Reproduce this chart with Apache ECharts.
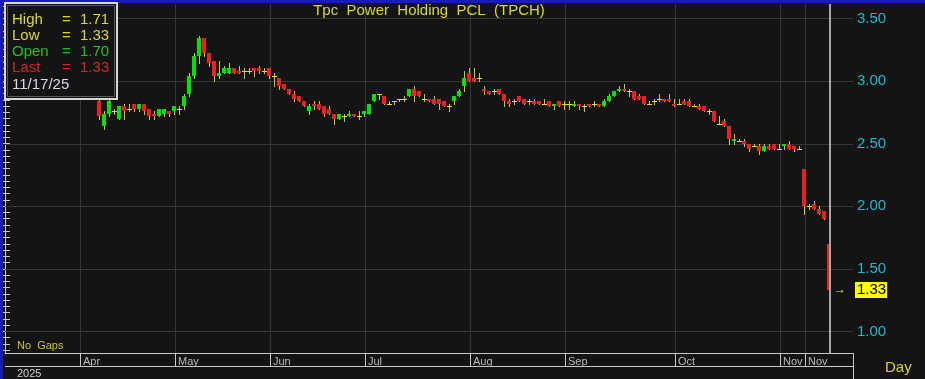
<!DOCTYPE html>
<html><head><meta charset="utf-8">
<script src="https://cdn.jsdelivr.net/npm/echarts@6/dist/echarts.min.js"></script>
<style>html,body{margin:0;padding:0;background:#141414;overflow:hidden}#c{width:925px;height:379px;}</style>
</head><body><div id="c"></div>
<script>
// ---- data (trading-day index, Apr 1 2025 = 15) ----
const firstIndex = 19;
const opens = [2.84,2.64,2.74,2.76,2.70,2.80,2.78,2.82,2.78,2.82,2.78,2.74,2.72,2.74,2.76,
 2.76,2.78,2.80,2.90,3.04,3.20,3.34,3.22,3.16,3.04,3.06,3.06,3.10,3.08,3.08,3.08,3.10,3.10,3.08,
 3.10,3.04,3.02,2.98,2.94,2.90,2.88,2.84,2.76,2.82,2.82,2.80,2.78,2.74,2.70,2.72,2.72,2.74,2.72,
 2.74,2.74,2.84,2.90,2.88,2.82,2.84,2.86,2.86,2.88,2.94,2.92,2.86,2.86,2.86,2.86,2.84,2.80,2.84,2.88,2.96,
 3.06,3.02,3.02,2.94,2.92,2.92,2.94,2.90,2.84,2.84,2.88,2.86,2.84,2.84,2.84,2.82,2.84,2.80,2.84,
 2.82,2.82,2.80,2.82,2.80,2.82,2.82,2.82,2.80,2.84,2.88,2.92,2.94,2.92,2.92,2.88,2.88,2.82,2.84,2.86,2.86,2.86,
 2.82,2.82,2.84,2.84,2.80,2.80,2.80,2.76,2.76,2.66,2.68,2.64,2.52,2.52,2.52,2.50,2.48,2.48,2.44,2.48,2.50,
 2.46,2.48,2.50,2.48,2.46,2.30,2.00,2.02,1.98,1.96,1.70];
const highs = [2.86,2.76,2.86,2.78,2.80,2.82,2.82,2.82,2.82,2.82,2.78,2.76,2.78,2.78,2.76,
 2.80,2.80,2.90,3.06,3.22,3.36,3.34,3.22,3.16,3.16,3.12,3.14,3.10,3.12,3.10,3.10,3.10,3.12,3.10,
 3.10,3.06,3.02,2.98,2.94,2.92,2.88,2.84,2.82,2.84,2.84,2.80,2.80,2.74,2.74,2.74,2.76,2.74,2.76,
 2.76,2.82,2.90,2.90,2.88,2.84,2.84,2.86,2.88,2.94,2.96,2.92,2.90,2.86,2.88,2.86,2.84,2.82,2.88,2.94,3.08,
 3.10,3.10,3.06,2.96,2.92,2.94,2.94,2.90,2.86,2.86,2.88,2.86,2.86,2.86,2.84,2.86,2.84,2.82,2.84,
 2.84,2.84,2.84,2.82,2.82,2.82,2.84,2.82,2.86,2.90,2.92,2.96,2.98,2.94,2.92,2.90,2.88,2.84,2.86,2.90,2.86,2.90,
 2.86,2.86,2.86,2.86,2.82,2.82,2.80,2.78,2.76,2.72,2.70,2.64,2.58,2.54,2.54,2.50,2.50,2.50,2.50,2.50,2.50,
 2.50,2.50,2.52,2.48,2.48,2.30,2.02,2.04,2.00,1.96,1.71];
const lows = [2.70,2.62,2.72,2.74,2.70,2.70,2.76,2.76,2.76,2.74,2.70,2.70,2.72,2.72,2.72,
 2.74,2.74,2.78,2.88,3.02,3.14,3.20,3.12,3.00,3.02,3.06,3.06,3.06,3.06,3.02,3.06,3.04,3.06,3.06,
 3.02,2.96,2.94,2.94,2.90,2.84,2.84,2.80,2.74,2.78,2.78,2.72,2.74,2.66,2.70,2.68,2.72,2.72,2.70,
 2.72,2.74,2.84,2.86,2.82,2.82,2.82,2.84,2.84,2.88,2.84,2.88,2.84,2.84,2.82,2.78,2.80,2.76,2.82,2.88,2.92,
 3.00,3.00,3.00,2.90,2.90,2.90,2.90,2.80,2.80,2.82,2.84,2.82,2.82,2.82,2.82,2.82,2.80,2.78,2.80,
 2.78,2.78,2.80,2.78,2.76,2.80,2.80,2.80,2.80,2.84,2.88,2.92,2.92,2.88,2.86,2.86,2.82,2.82,2.82,2.84,2.84,2.84,
 2.80,2.82,2.82,2.80,2.80,2.78,2.76,2.74,2.68,2.66,2.64,2.50,2.50,2.52,2.48,2.44,2.48,2.42,2.44,2.46,2.46,
 2.46,2.46,2.46,2.44,2.46,1.94,1.98,1.98,1.94,1.90,1.33];
const closes = [2.72,2.74,2.84,2.76,2.80,2.76,2.78,2.78,2.82,2.76,2.72,2.72,2.78,2.78,2.74,
 2.80,2.78,2.88,3.04,3.20,3.34,3.22,3.14,3.04,3.06,3.10,3.10,3.06,3.06,3.08,3.08,3.08,3.08,3.08,
 3.04,3.04,2.96,2.94,2.90,2.86,2.84,2.80,2.80,2.80,2.78,2.74,2.74,2.70,2.74,2.72,2.74,2.72,2.72,
 2.76,2.82,2.90,2.90,2.82,2.82,2.84,2.86,2.86,2.94,2.88,2.88,2.86,2.84,2.82,2.82,2.80,2.80,2.88,2.92,3.02,
 3.00,3.00,3.02,2.92,2.90,2.92,2.90,2.84,2.82,2.84,2.84,2.82,2.84,2.82,2.82,2.82,2.80,2.82,2.80,
 2.82,2.82,2.82,2.80,2.80,2.80,2.82,2.80,2.84,2.88,2.92,2.94,2.92,2.92,2.86,2.86,2.82,2.82,2.84,2.86,2.84,2.84,
 2.80,2.82,2.82,2.80,2.80,2.78,2.76,2.76,2.68,2.66,2.64,2.54,2.54,2.52,2.50,2.46,2.48,2.44,2.48,2.46,2.46,
 2.46,2.50,2.46,2.46,2.46,2.00,2.00,1.98,1.94,1.90,1.33];
const monthIdx = [15,34,53,72,93,112,134,155,160];
const monthLabels = ['Apr','May','Jun','Jul','Aug','Sep','Oct','Nov','Nov'];
const priceTicks = [1.00,1.50,2.00,2.50,3.00,3.50];
const lastDateLabel = '11/17/25';
const yearLabel = '2025';
const titleText = 'Tpc  Power  Holding  PCL  (TPCH)';

// ---- build ----
const FONT = '"Liberation Sans", Arial, sans-serif';
const YMIN = 0.8275, YMAX = 3.615, XMIN = 0, XMAX = 169.6;
const minorTicks = []; for (let t = 17; t <= 72; t++) minorTicks.push(+(t * 0.05).toFixed(2));
const candles = opens.map((o, k) => [firstIndex + k, o, highs[k], lows[k], closes[k]]);
const L = closes.length - 1;
const lastIdx = firstIndex + L;
const lastClose = closes[L];
const UP = '#00e000', DOWN = '#e82222', WICK = '#c8c832', DOJI = '#e0e030';
const GRID = '#363636', AX = '#c8c8c8';

function candleItem(params, api) {
  const idx = api.value(0), o = api.value(1), h = api.value(2), l = api.value(3), c = api.value(4);
  const cx = Math.round(api.coord([idx, o])[0]);
  const yO = Math.round(api.coord([idx, o])[1]), yC = Math.round(api.coord([idx, c])[1]);
  const yH = Math.round(api.coord([idx, h])[1]), yL = Math.round(api.coord([idx, l])[1]);
  const ch = [];
  ch.push({type: 'rect', shape: {x: cx - 1, y: yH, width: 1, height: Math.max(1, yL - yH + 1)}, style: {fill: WICK}});
  if (o === c) {
    ch.push({type: 'rect', shape: {x: cx - 3, y: yO, width: 5, height: 1}, style: {fill: DOJI}});
  } else {
    const top = Math.min(yO, yC), bot = Math.max(yO, yC);
    ch.push({type: 'rect', shape: {x: cx - 3, y: top, width: 4, height: Math.max(1, bot - top)}, style: {fill: c > o ? UP : DOWN}});
  }
  return {type: 'group', children: ch};
}

const chart = echarts.init(document.getElementById('c'));
chart.setOption({
  backgroundColor: '#141414',
  animation: false,
  grid: {left: 5, right: 72, top: 4, bottom: 26},
  xAxis: {
    type: 'value', min: XMIN, max: XMAX,
    axisLine: {show: true, lineStyle: {color: AX, width: 1}},
    axisTick: {show: true, customValues: monthIdx, length: 14, lineStyle: {color: AX}},
    axisLabel: {show: true, customValues: monthIdx, formatter: v => monthLabels[monthIdx.indexOf(v)], align: 'left',
      margin: 3, padding: [0, 0, 0, 3], color: '#b8b8b8', fontSize: 11, fontFamily: FONT},
    splitLine: {show: false}
  },
  yAxis: [
    {type: 'value', position: 'right', min: YMIN, max: YMAX,
      axisLine: {show: true, lineStyle: {color: AX}},
      axisTick: {show: true, inside: true, customValues: minorTicks, length: 5, lineStyle: {color: AX}},
      axisLabel: {customValues: priceTicks, formatter: v => v.toFixed(2), color: '#22b8c8', fontSize: 15, fontFamily: FONT, margin: 4},
      splitLine: {show: false}},
    {type: 'value', position: 'right', min: YMIN, max: YMAX,
      axisLine: {show: false}, axisTick: {show: false}, splitLine: {show: false},
      axisLabel: {customValues: [lastClose], formatter: v => v.toFixed(2), color: '#000', backgroundColor: '#ffff00',
        padding: [1, 1, 0, 2], fontSize: 15, fontFamily: FONT, margin: 2}},
    {type: 'value', position: 'right', min: YMIN, max: YMAX,
      axisLine: {show: false}, axisTick: {show: false}, splitLine: {show: false},
      axisLabel: {inside: true, customValues: [lastClose], formatter: () => '\u2192', color: '#e0e030', fontSize: 12, fontWeight: 'bold', fontFamily: FONT, margin: 7}},
    {type: 'value', position: 'left', min: YMIN, max: YMAX,
      axisLine: {show: true, lineStyle: {color: AX}},
      axisTick: {show: true, inside: true, customValues: minorTicks, length: 5, lineStyle: {color: AX}},
      axisLabel: {show: false}, splitLine: {show: false}}
  ],
  series: [
    {type: 'custom', name: 'vgrid', z: 1, silent: true, data: monthIdx.map(v => [v, YMIN]),
      renderItem: (p, api) => {
        const x = Math.round(api.coord([api.value(0), YMIN])[0]) + 0.5;
        const cs = p.coordSys;
        return {type: 'line', shape: {x1: x, y1: cs.y, x2: x, y2: cs.y + cs.height}, style: {stroke: GRID, lineWidth: 1}};
      }},
    {type: 'custom', name: 'hgrid', z: 1, silent: true, data: priceTicks.map(v => [XMIN, v]),
      renderItem: (p, api) => {
        const y = Math.round(api.coord([XMIN, api.value(1)])[1]) + 0.5;
        const cs = p.coordSys;
        return {type: 'line', shape: {x1: cs.x, y1: y, x2: cs.x + cs.width, y2: y}, style: {stroke: GRID, lineWidth: 1}};
      }},
    {type: 'custom', name: 'TPCH', z: 3, silent: true, data: candles, encode: {x: 0, y: [1, 2, 3, 4]}, renderItem: candleItem, clip: true},
    {type: 'custom', name: 'cursor', z: 4, silent: true, data: [[lastIdx, YMIN]],
      renderItem: (p, api) => {
        const x = Math.round(api.coord([api.value(0), YMIN])[0]) - 1;
        const cs = p.coordSys;
        return {type: 'rect', shape: {x: x, y: cs.y, width: 2, height: cs.height}, style: {fill: '#a8a8a8'}};
      }}
  ],
  graphic: [
    {type: 'rect', z: 100, shape: {x: 0, y: 0, width: 925, height: 3}, style: {fill: '#1a1ab8'}},
    {type: 'rect', z: 100, shape: {x: 0, y: 0, width: 3, height: 379}, style: {fill: '#1a1ab8'}},
    {type: 'text', z: 100, x: 429, y: 11, style: {text: titleText, fill: '#d8d830', font: '15px ' + FONT, align: 'center', verticalAlign: 'middle'}},
    {type: 'line', z: 100, shape: {x1: 5, y1: 366.5, x2: 853, y2: 366.5}, style: {stroke: AX, lineWidth: 1}},
    {type: 'line', z: 100, shape: {x1: 853.5, y1: 353, x2: 853.5, y2: 379}, style: {stroke: AX, lineWidth: 1}},
    {type: 'text', z: 100, x: 17, y: 346, style: {text: 'No  Gaps', fill: '#c8c820', font: '11px ' + FONT, verticalAlign: 'middle'}},
    {type: 'text', z: 100, x: 17, y: 374, style: {text: yearLabel, fill: '#d0d0d0', font: '11px ' + FONT, verticalAlign: 'middle'}},
    {type: 'text', z: 100, x: 885, y: 368, style: {text: 'Day', fill: '#d4d42a', font: '15px ' + FONT, verticalAlign: 'middle'}},
    {type: 'rect', z: 100, shape: {x: 5, y: 3, width: 112, height: 96}, style: {fill: '#141414', stroke: '#d8d8d8', lineWidth: 2}},
    {type: 'rect', z: 100, shape: {x: 7.5, y: 5.5, width: 107, height: 91}, style: {fill: 'none', stroke: '#5a5a5a', lineWidth: 1}},
    {type: 'text', z: 101, x: 12, y: 20, style: {text: 'High', fill: '#d8d830', font: '15px ' + FONT, verticalAlign: 'middle'}},
    {type: 'text', z: 101, x: 62, y: 20, style: {text: '=', fill: '#d8d830', font: '15px ' + FONT, verticalAlign: 'middle'}},
    {type: 'text', z: 101, x: 80, y: 20, style: {text: highs[L].toFixed(2), fill: '#d8d830', font: '15px ' + FONT, verticalAlign: 'middle'}},
    {type: 'text', z: 101, x: 12, y: 36, style: {text: 'Low', fill: '#d8d830', font: '15px ' + FONT, verticalAlign: 'middle'}},
    {type: 'text', z: 101, x: 62, y: 36, style: {text: '=', fill: '#d8d830', font: '15px ' + FONT, verticalAlign: 'middle'}},
    {type: 'text', z: 101, x: 80, y: 36, style: {text: lows[L].toFixed(2), fill: '#d8d830', font: '15px ' + FONT, verticalAlign: 'middle'}},
    {type: 'text', z: 101, x: 12, y: 52, style: {text: 'Open', fill: '#20c020', font: '15px ' + FONT, verticalAlign: 'middle'}},
    {type: 'text', z: 101, x: 62, y: 52, style: {text: '=', fill: '#20c020', font: '15px ' + FONT, verticalAlign: 'middle'}},
    {type: 'text', z: 101, x: 80, y: 52, style: {text: opens[L].toFixed(2), fill: '#20c020', font: '15px ' + FONT, verticalAlign: 'middle'}},
    {type: 'text', z: 101, x: 12, y: 68, style: {text: 'Last', fill: '#d02828', font: '15px ' + FONT, verticalAlign: 'middle'}},
    {type: 'text', z: 101, x: 62, y: 68, style: {text: '=', fill: '#d02828', font: '15px ' + FONT, verticalAlign: 'middle'}},
    {type: 'text', z: 101, x: 80, y: 68, style: {text: closes[L].toFixed(2), fill: '#d02828', font: '15px ' + FONT, verticalAlign: 'middle'}},
    {type: 'text', z: 101, x: 12, y: 85, style: {text: lastDateLabel, fill: '#d8d8e8', font: '15px ' + FONT, verticalAlign: 'middle'}}
  ]
});
</script></body></html>
